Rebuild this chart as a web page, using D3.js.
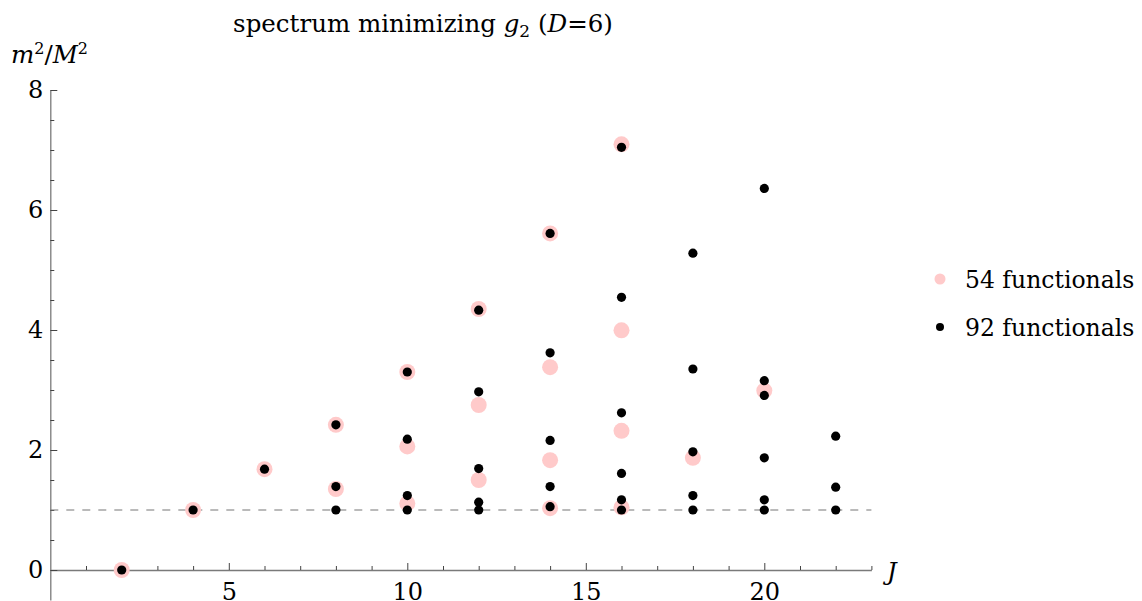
<!DOCTYPE html>
<html>
<head>
<meta charset="utf-8">
<script src="https://cdn.jsdelivr.net/npm/d3@7"></script>
<style>
  body { margin: 0; background: #fff; }
</style>
</head>
<body>
<svg id="graph-svg" width="1142" height="601"></svg>
<script>
// spectrum points: [J, m^2/M^2]
const pts54 = [
  [2, 0], [4, 1.0], [6, 1.68],
  [8, 2.42], [8, 1.35],
  [10, 3.30], [10, 2.06], [10, 1.11],
  [12, 4.35], [12, 2.75], [12, 1.50],
  [14, 5.61], [14, 3.38], [14, 1.83], [14, 1.03],
  [16, 7.095], [16, 3.995], [16, 2.32], [16, 1.045],
  [18, 1.87],
  [20, 2.99]
]
const pts92 = [
  [2, 0], [4, 1.0], [6, 1.68],
  [8, 2.42], [8, 1.39], [8, 1.0],
  [10, 3.30], [10, 2.18], [10, 1.24], [10, 1.0],
  [12, 4.33], [12, 2.97], [12, 1.69], [12, 1.13], [12, 1.0],
  [14, 5.61], [14, 3.62], [14, 2.16], [14, 1.39], [14, 1.055],
  [16, 7.045], [16, 4.545], [16, 2.62], [16, 1.61], [16, 1.17], [16, 1.0],
  [18, 5.28], [18, 3.35], [18, 1.97], [18, 1.24], [18, 1.0],
  [20, 6.36], [20, 3.155], [20, 2.91], [20, 1.87], [20, 1.17], [20, 1.0],
  [22, 2.23], [22, 1.38], [22, 1.0]
]
const legendLabels = ['54 functionals', '92 functionals']
const xMajor = [5, 10, 15, 20]
const yMajor = [0, 2, 4, 6, 8]
const threshold = 1

const colours = { pink: '#ffcaca', black: '#000', axis: '#7a7a7a', tick: '#444' }
const serif = 'DejaVu Serif'

const svg = d3.select('#graph-svg')
const x = d3.scaleLinear().domain([0, 23]).range([50.3, 871.4])
const y = d3.scaleLinear().domain([-0.5, 8]).range([600, 90])

const xMinor = d3.range(1, 24).filter(d => !xMajor.includes(d))
const yMinor = d3.range(0.5, 8, 0.5).filter(d => !yMajor.includes(d))

// x axis (ticks point up into the plot)
const gx = svg.append('g').attr('transform', `translate(0,${y(0)})`)
gx.call(d3.axisBottom(x).tickValues(xMinor).tickSize(-4).tickSizeOuter(0).tickFormat(''))
gx.selectAll('.tick line').attr('stroke', colours.tick)
gx.select('.domain').attr('stroke', colours.axis).attr('stroke-width', 1.3)
const gx2 = svg.append('g').attr('transform', `translate(0,${y(0)})`)
gx2.call(d3.axisBottom(x).tickValues(xMajor).tickSize(-7).tickSizeOuter(0).tickPadding(13))
gx2.selectAll('.domain').remove()
gx2.selectAll('.tick line').attr('stroke', colours.tick)
gx2.attr('font-family', serif).attr('font-size', 24)
gx2.selectAll('.tick text').attr('fill', '#000')

// y axis (ticks point right)
const gy = svg.append('g').attr('transform', `translate(${x(0)},0)`)
gy.call(d3.axisLeft(y).tickValues(yMinor).tickSize(-4).tickSizeOuter(0).tickFormat(''))
gy.selectAll('.tick line').attr('stroke', colours.tick)
gy.select('.domain').attr('stroke', colours.axis).attr('stroke-width', 1.3)
const gy2 = svg.append('g').attr('transform', `translate(${x(0)},0)`)
gy2.call(d3.axisLeft(y).tickValues(yMajor).tickSize(-7).tickSizeOuter(0).tickPadding(7))
gy2.selectAll('.domain').remove()
gy2.selectAll('.tick line').attr('stroke', colours.tick)
gy2.attr('font-family', serif).attr('font-size', 24)
gy2.selectAll('.tick text').attr('fill', '#000')

// dashed threshold line
svg.append('line')
  .attr('x1', x(0)).attr('x2', x(23))
  .attr('y1', y(threshold)).attr('y2', y(threshold))
  .attr('stroke', '#777').attr('stroke-width', 1.2)
  .attr('stroke-dasharray', '8,8')

// points
svg.append('g').selectAll('circle')
  .data(pts54)
  .join('circle')
  .attr('cx', d => x(d[0])).attr('cy', d => y(d[1]))
  .attr('r', 8).attr('fill', colours.pink)
svg.append('g').selectAll('circle')
  .data(pts92)
  .join('circle')
  .attr('cx', d => x(d[0])).attr('cy', d => y(d[1]))
  .attr('r', 4.6).attr('fill', colours.black)

// title
const title = svg.append('text')
  .attr('x', 423).attr('y', 32)
  .attr('text-anchor', 'middle')
  .attr('font-family', serif)
  .attr('font-size', 24.5)
title.append('tspan').text('spectrum minimizing ')
title.append('tspan').attr('font-style', 'italic').text('g')
title.append('tspan').attr('font-size', 17).attr('dy', 5).text('2')
title.append('tspan').attr('dy', -5).text(' (')
title.append('tspan').attr('font-style', 'italic').text('D')
title.append('tspan').text('=6)')

// axis labels
const ylab = svg.append('text').attr('x', 11).attr('y', 63)
  .attr('font-family', serif).attr('font-size', 24.5)
ylab.append('tspan').attr('font-style', 'italic').text('m')
ylab.append('tspan').attr('font-size', 16).attr('dy', -9).text('2')
ylab.append('tspan').attr('dy', 9).text('/')
ylab.append('tspan').attr('font-style', 'italic').text('M')
ylab.append('tspan').attr('font-size', 16).attr('dy', -9).text('2')

svg.append('text')
  .attr('x', 887).attr('y', 580)
  .attr('font-family', serif)
  .attr('font-size', 24).attr('font-style', 'italic')
  .text('J')

// legend
const legend = svg.append('g')
  .selectAll('g')
  .data(legendLabels)
  .join('g')
  .attr('transform', (d, i) => `translate(940,${279 + i * 48})`)
legend.append('circle')
  .attr('r', (d, i) => i == 0 ? 5.5 : 4)
  .attr('fill', (d, i) => i == 0 ? colours.pink : colours.black)
legend.append('text')
  .attr('x', 25).attr('y', 9)
  .attr('font-family', serif)
  .attr('font-size', 23.5)
  .text(d => d)
</script>
</body>
</html>
